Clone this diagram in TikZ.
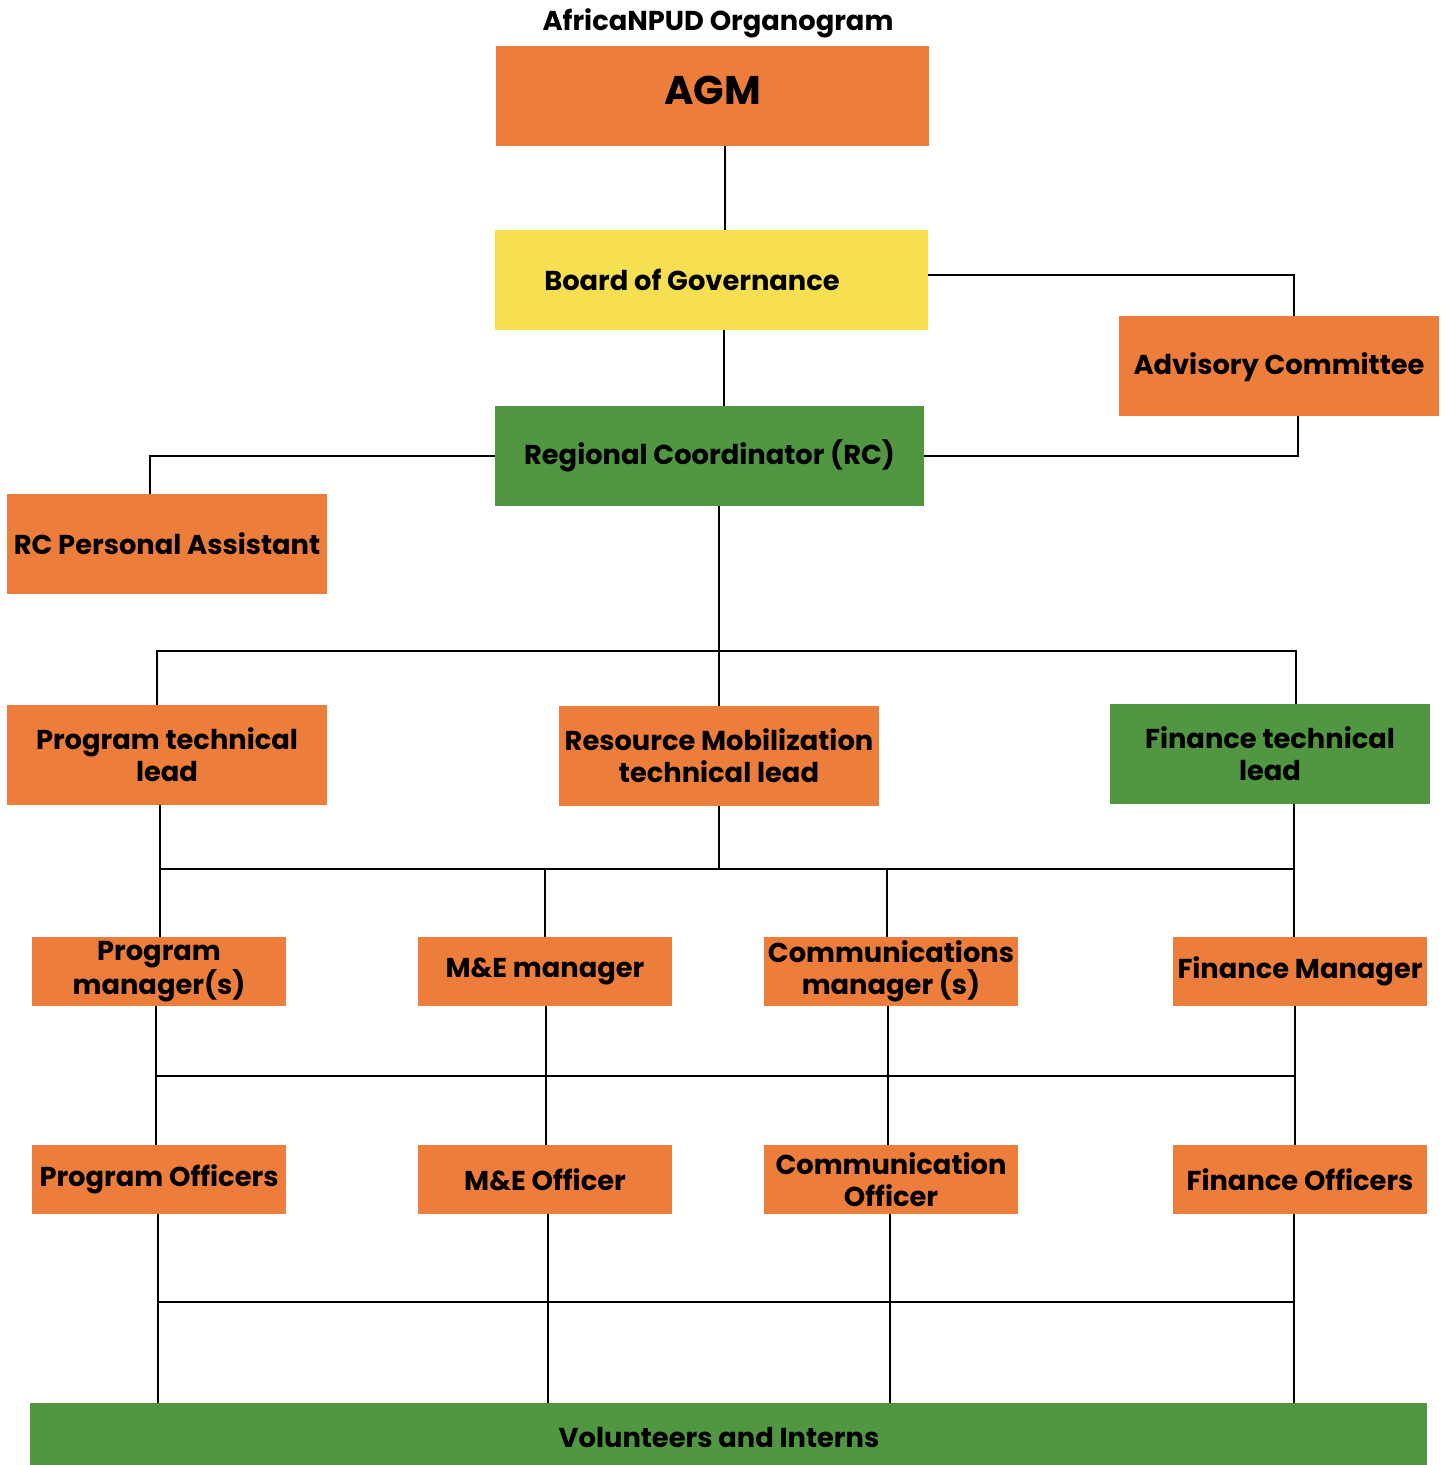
\documentclass[tikz,border=0pt]{standalone}
\usepackage{fontspec}
\setmainfont{Poppins}
\usepackage{tikz}
\definecolor{orgorange}{HTML}{ED7D3A}
\definecolor{orgyellow}{HTML}{F6E052}
\definecolor{orggreen}{HTML}{519640}
\tikzset{
  unit/.style={fill=orgorange, inner sep=0pt, align=center, font=\fontsize{27.3}{32}\selectfont\bfseries},
  bigunit/.style={unit, minimum width=320pt, minimum height=100pt},
  smallunit/.style={unit, minimum width=254pt, minimum height=69pt},
  link/.style={line width=2pt, black}
}
\begin{document}
\begin{tikzpicture}[x=1pt,y=-1pt]
\useasboundingbox (0,0) rectangle (1444,1465);
\node[font=\fontsize{27.3}{32}\selectfont\bfseries] (title) at (718,23) {AfricaNPUD Organogram};
\node[unit, minimum width=433pt, minimum height=100pt, text depth=12pt, font=\fontsize{40}{48}\selectfont\bfseries] (agm) at (712.5,96) {AGM};
\node[unit, fill=orgyellow, minimum width=433pt, minimum height=100pt] (bog) at (711.5,280) {};
\node[font=\fontsize{27.3}{32}\selectfont\bfseries] (bogtext) at (692,280) {Board of Governance};
\node[bigunit, text depth=4pt] (adv) at (1279,366) {Advisory Committee};
\node[unit, fill=orggreen, minimum width=429pt, minimum height=100pt] (rc) at (709.5,456) {Regional Coordinator (RC)};
\node[bigunit] (pa) at (167,544) {RC Personal Assistant};
\node[bigunit] (ptl) at (167,755) {Program technical\\lead};
\node[bigunit] (rml) at (719,756) {Resource Mobilization\\technical lead};
\node[bigunit, fill=orggreen] (ftl) at (1270,754) {Finance technical\\lead};
\node[smallunit] (pm) at (159,971.5) {Program\\manager(s)};
\node[smallunit] (mem) at (545,971.5) {M\&E manager};
\node[smallunit] (cmm) at (891,971.5) {Communications\\manager (s)};
\node[smallunit] (fm) at (1300,971.5) {Finance Manager};
\node[smallunit] (po) at (159,1179.5) {Program Officers};
\node[smallunit] (meo) at (545,1179.5) {M\&E Officer};
\node[smallunit] (cmo) at (891,1179.5) {Communication\\Officer};
\node[smallunit] (fo) at (1300,1179.5) {Finance Officers};
\node[unit, fill=orggreen, minimum width=1397pt, minimum height=62pt] (vol) at (728.5,1434) {};
\node[font=\fontsize{27.3}{32}\selectfont\bfseries] (voltext) at (719,1437) {Volunteers and Interns};
\coordinate (bus1) at (0,651);
\coordinate (bus2) at (0,869);
\coordinate (bus3) at (0,1076);
\coordinate (bus4) at (0,1302);
\draw[link] ([xshift=12.5]agm.south) -- ([xshift=12.5]agm.south |- bog.north);
\draw[link] ([xshift=12.5]bog.south) -- ([xshift=12.5]bog.south |- rc.north);
\draw[link] ([yshift=5]bog.east) -| ([xshift=15]adv.north);
\draw[link] ([xshift=19]adv.south) |- (rc.east);
\draw[link] (rc.west) -| ([xshift=-17]pa.north);
\draw[link] (rml.north) -- (rml.north |- rc.south);
\draw[link] ([xshift=-10]ptl.north) -- ([xshift=-10]ptl.north |- bus1) -| ([xshift=26]ftl.north);
\draw[link] ([xshift=-7]ptl.south) -- ([xshift=-7]ptl.south |- pm.north);
\draw[link] ([xshift=24]ftl.south) -- ([xshift=24]ftl.south |- fm.north);
\draw[link] ([xshift=-7]ptl.south |- bus2) -- ([xshift=24]ftl.south |- bus2);
\draw[link] (rml.south) -- (rml.south |- bus2);
\draw[link] (mem.north) -- (mem.north |- bus2);
\draw[link] ([xshift=-4]cmm.north) -- ([xshift=-4]cmm.north |- bus2);
\foreach \a/\b/\s in {pm/po/-3,mem/meo/1,cmm/cmo/-3,fm/fo/-5}
  \draw[link] ([xshift=\s]\a.south) -- ([xshift=\s]\a.south |- \b.north);
\draw[link] ([xshift=-3]pm.south |- bus3) -- ([xshift=-5]fm.south |- bus3);
\foreach \a/\s in {po/-1,meo/3,cmo/-1,fo/-6}
  \draw[link] ([xshift=\s]\a.south) -- ([xshift=\s]\a.south |- vol.north);
\draw[link] ([xshift=-1]po.south |- bus4) -- ([xshift=-6]fo.south |- bus4);
\end{tikzpicture}
\end{document}
